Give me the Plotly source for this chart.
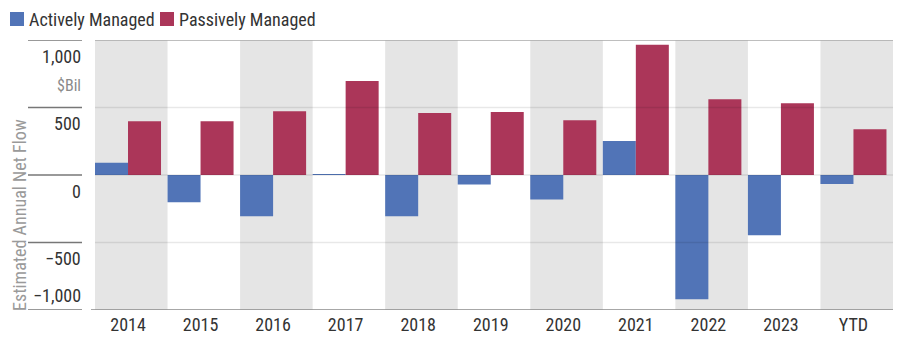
import plotly.graph_objects as go

categories = ["2014", "2015", "2016", "2017", "2018", "2019", "2020", "2021", "2022", "2023", "YTD"]
active_flows = [91, -202, -306, 5, -306, -71, -182, 251, -920, -447, -66]
passive_flows = [398, 398, 472, 697, 460, 467, 405, 965, 561, 532, 338]
series_names = ["Actively Managed", "Passively Managed"]
y_tick_vals = [1000, 500, 0, -500, -1000]
y_tick_labels = ["1,000", "500", "0", "\u2212500", "\u22121,000"]
y_unit = "$Bil"
y_title = "Estimated Annual Net Flow"

BLUE = "#5174b7"
RED = "#ab3659"
BAND = "#e5e5e5"
FONT = "Roboto Condensed, DejaVu Sans Condensed, sans-serif"

W, H = 906, 341
ML, MR, MT, MB = 95, 13, 40, 31
PW = W - ML - MR
PH = H - MT - MB

BW = 0.455
xs = list(range(len(categories)))

fig = go.Figure()
fig.add_trace(go.Bar(x=xs, y=active_flows, name=series_names[0], width=BW, offset=-BW,
                     marker=dict(color=BLUE, line=dict(width=0))))
fig.add_trace(go.Bar(x=xs, y=passive_flows, name=series_names[1], width=BW, offset=0,
                     marker=dict(color=RED, line=dict(width=0))))

shapes = []
# alternating background bands
for i in xs:
    if i % 2 == 0:
        shapes.append(dict(type="rect", xref="x", yref="paper", x0=i - BW, x1=i + 1 - BW,
                           y0=0, y1=1, fillcolor=BAND, line=dict(width=0), layer="below"))
# gridlines over the plot (semi-transparent, above bars)
for v in y_tick_vals:
    if v in (1000, -1000):
        continue
    shapes.append(dict(type="line", xref="paper", yref="y", x0=0, x1=1, y0=v, y1=v,
                       line=dict(color="rgba(0,0,0,0.09)", width=1.5), layer="above"))
# top line
shapes.append(dict(type="line", xref="paper", yref="y", x0=0, x1=1, y0=1000, y1=1000,
                   line=dict(color="#a8a8a8", width=1.5), layer="above"))
# bottom axis line
shapes.append(dict(type="line", xref="paper", yref="y", x0=(91 - ML) / PW, x1=1, y0=-1000, y1=-1000,
                   line=dict(color="#8a8a8a", width=1.5), layer="above"))
# left tick segments
for v in y_tick_vals:
    shapes.append(dict(type="line", xref="paper", yref="y", x0=(28 - ML) / PW, x1=(82 - ML) / PW,
                       y0=v, y1=v, line=dict(color="#777777", width=1.5)))

annotations = []
for v, lab in zip(y_tick_vals, y_tick_labels):
    shift = 15 if v == -1000 else -16
    annotations.append(dict(xref="paper", yref="y", x=(83 - ML) / PW, y=v, yshift=shift,
                            text=lab, showarrow=False, xanchor="right", yanchor="middle",
                            font=dict(family=FONT, size=18, color="#333333")))
annotations.append(dict(xref="paper", yref="y", x=(83 - ML) / PW, y=1000, yshift=-45,
                        text=y_unit, showarrow=False, xanchor="right", yanchor="middle",
                        font=dict(family=FONT, size=16, color="#8a8a8a")))
annotations.append(dict(xref="paper", yref="paper", x=(19 - ML) / PW, y=(H - MB - 215) / PH,
                        text=y_title, showarrow=False, textangle=-90, xanchor="center", yanchor="middle",
                        font=dict(family=FONT, size=18, color="#9a9a9a")))

# custom legend
leg_items = [(series_names[0], BLUE, 10), (series_names[1], RED, 160)]
for name, col, x0 in leg_items:
    shapes.append(dict(type="rect", xref="paper", yref="paper",
                       x0=(x0 - ML) / PW, x1=(x0 + 14 - ML) / PW,
                       y0=(H - MB - 26) / PH, y1=(H - MB - 12) / PH,
                       fillcolor=col, line=dict(width=0)))
    annotations.append(dict(xref="paper", yref="paper", x=(x0 + 17 - ML) / PW, y=(H - MB - 19) / PH,
                            text=name, showarrow=False, xanchor="left", yanchor="middle",
                            font=dict(family=FONT, size=18, color="#333333")))

fig.update_layout(
    width=W, height=H,
    margin=dict(l=ML, r=MR, t=MT, b=MB, pad=0, autoexpand=False),
    paper_bgcolor="white", plot_bgcolor="white",
    showlegend=False,
    barmode="overlay",
    shapes=shapes, annotations=annotations,
    font=dict(family=FONT, size=18, color="#333333"),
    xaxis=dict(range=[-BW, len(categories) - BW], tickvals=xs, ticktext=categories,
               showgrid=False, zeroline=False, showline=False, ticks="",
               ticklabelstandoff=2, automargin=False,
               tickfont=dict(family=FONT, size=18, color="#333333"), fixedrange=True),
    yaxis=dict(range=[-1000, 1000], showgrid=False, zeroline=False, showline=False,
               showticklabels=False, ticks="", automargin=False, fixedrange=True),
)

fig.write_html("out.html", config={"displayModeBar": False})
